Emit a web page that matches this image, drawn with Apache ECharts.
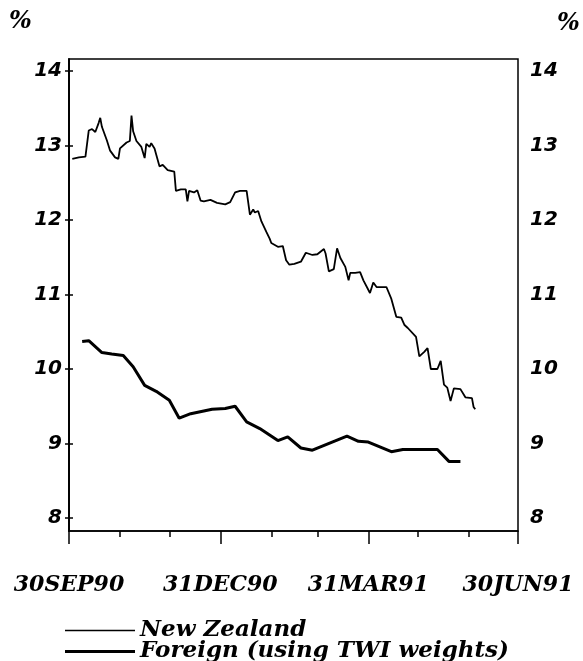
<!DOCTYPE html>
<html>
<head>
<meta charset="utf-8">
<script src="https://cdn.jsdelivr.net/npm/echarts@6/dist/echarts.min.js"></script>
<style>
  html, body { margin: 0; padding: 0; background: #fff; }
  #chart { width: 583px; height: 661px; }
</style>
</head>
<body>
<div id="chart"></div>
<script>
// x values are days since 30 Sep 1990
const nzDays = [2, 6, 10, 12, 14, 16, 18, 19, 20, 23, 25, 28, 30, 31, 35, 37, 38, 39, 41, 44,
  46, 47, 49, 50, 52, 53, 55, 57, 60, 62, 64, 65, 68, 71, 72, 73, 76, 78, 80, 82,
  86, 90, 95, 98, 101, 104, 108, 110, 112, 113, 115, 117, 120, 122, 123, 127, 130, 132, 134, 137,
  141, 144, 148, 151, 155, 156, 158, 161, 163, 165, 168, 170, 171, 174, 177, 179, 183, 185, 187, 190,
  193, 196, 199, 202, 204, 206, 211, 213, 216, 218, 220, 224, 226, 228, 230, 232, 234, 238, 241, 245,
  246, 247]
const nzRate = [12.82, 12.84, 12.85, 13.20, 13.22, 13.18, 13.30, 13.37, 13.25, 13.07, 12.93, 12.84, 12.82, 12.96, 13.04, 13.06, 13.40, 13.19, 13.06, 12.98,
  12.83, 13.02, 12.98, 13.03, 12.96, 12.98, 12.72, 12.74, 12.67, 12.66, 12.65, 12.39, 12.41, 12.41, 12.25, 12.39, 12.37, 12.40, 12.26, 12.25,
  12.27, 12.23, 12.21, 12.24, 12.37, 12.39, 12.39, 12.07, 12.14, 12.10, 12.12, 11.98, 11.84, 11.75, 11.69, 11.64, 11.65, 11.46, 11.40, 11.41,
  11.44, 11.56, 11.53, 11.54, 11.61, 11.55, 11.31, 11.34, 11.62, 11.49, 11.37, 11.19, 11.29, 11.29, 11.30, 11.19, 11.02, 11.16, 11.10, 11.10,
  11.10, 10.94, 10.70, 10.69, 10.59, 10.55, 10.43, 10.17, 10.23, 10.28, 10.00, 10.00, 10.11, 9.79, 9.75, 9.57, 9.74, 9.73, 9.62, 9.61,
  9.49, 9.46]

const foreignDays = [8, 12, 20, 26, 33, 39, 46, 53, 61, 67, 74, 87, 95, 101, 108, 116, 127, 133, 141, 148,
  169, 176, 182, 196, 203, 224, 231, 238]
const foreignRate = [10.37, 10.38, 10.22, 10.20, 10.18, 10.03, 9.78, 9.70, 9.58, 9.34, 9.40, 9.46, 9.47, 9.50, 9.29, 9.20, 9.04, 9.09, 8.94, 8.91,
  9.10, 9.03, 9.02, 8.89, 8.92, 8.92, 8.76, 8.76]

// month-end ticks
const monthTicks = [0, 31, 61, 92, 123, 151, 182, 212, 243, 273]
const majorTicks = [0, 92, 182, 273]
const majorLabels = ['30SEP90', '31DEC90', '31MAR91', '30JUN91']
const yTicks = [8, 9, 10, 11, 12, 13, 14]

const chart = echarts.init(document.getElementById('chart'))

const serifFont = '"DejaVu Serif", serif'
const sansFont = '"DejaVu Sans", sans-serif'

const yAxisBase = {
  type: 'value',
  min: 7.826,
  max: 14.16,
  splitLine: { show: false },
  axisLine: { show: true, lineStyle: { color: '#000', width: 1.5 } },
  axisTick: { show: true, customValues: yTicks, length: 4, lineStyle: { color: '#000', width: 1.5 } },
  axisLabel: {
    customValues: yTicks,
    color: '#000',
    fontFamily: sansFont,
    fontWeight: 'bold',
    fontStyle: 'italic',
    fontSize: 20
  }
}

const legendText = {
  color: '#000',
  fontFamily: serifFont,
  fontStyle: 'italic',
  fontWeight: 'bold',
  fontSize: 23
}

const option = {
  animation: false,
  backgroundColor: '#fff',
  grid: {
    left: 69, right: 65, top: 59, bottom: 130,
    show: true, borderColor: '#000', borderWidth: 1.5, backgroundColor: 'transparent'
  },
  xAxis: [
    {
      type: 'value',
      min: 0, max: 273,
      position: 'bottom',
      splitLine: { show: false },
      axisLine: { show: true, lineStyle: { color: '#000', width: 1.5 } },
      axisTick: { show: true, customValues: monthTicks, length: 6, lineStyle: { color: '#000', width: 1.5 } },
      axisLabel: { show: false }
    },
    {
      type: 'value',
      min: 0, max: 273,
      position: 'bottom',
      splitLine: { show: false },
      axisLine: { show: false },
      axisTick: { show: true, customValues: majorTicks, length: 13, lineStyle: { color: '#000', width: 1.5 } },
      axisLabel: {
        customValues: majorTicks,
        formatter: v => majorLabels[majorTicks.indexOf(v)],
        margin: 43,
        color: '#000',
        fontFamily: serifFont,
        fontWeight: 'bold',
        fontStyle: 'italic',
        fontSize: 22
      }
    }
  ],
  yAxis: [
    Object.assign({}, yAxisBase, { position: 'left', axisLabel: Object.assign({}, yAxisBase.axisLabel, { margin: 7 }) }),
    Object.assign({}, yAxisBase, { position: 'right', axisLabel: Object.assign({}, yAxisBase.axisLabel, { margin: 12 }) })
  ],
  legend: [
    {
      left: 65, top: 619, padding: 0,
      icon: 'rect', itemWidth: 70, itemHeight: 1.5,
      textStyle: legendText,
      data: ['New Zealand']
    },
    {
      left: 65, top: 640, padding: 0,
      icon: 'rect', itemWidth: 70, itemHeight: 3,
      textStyle: legendText,
      data: ['Foreign (using TWI weights)']
    }
  ],
  graphic: [
    { type: 'text', left: 9, top: 10, style: { text: '%', font: 'italic bold 24px "DejaVu Serif"', fill: '#000' } },
    { type: 'text', left: 557, top: 12, style: { text: '%', font: 'italic bold 24px "DejaVu Serif"', fill: '#000' } }
  ],
  series: [
    {
      name: 'New Zealand',
      type: 'line',
      symbol: 'none',
      lineStyle: { color: '#000', width: 1.8 },
      itemStyle: { color: '#000' },
      data: nzDays.map((d, i) => [d, nzRate[i]])
    },
    {
      name: 'Foreign (using TWI weights)',
      type: 'line',
      symbol: 'none',
      lineStyle: { color: '#000', width: 3 },
      itemStyle: { color: '#000' },
      data: foreignDays.map((d, i) => [d, foreignRate[i]])
    }
  ]
}

chart.setOption(option)
</script>
</body>
</html>
